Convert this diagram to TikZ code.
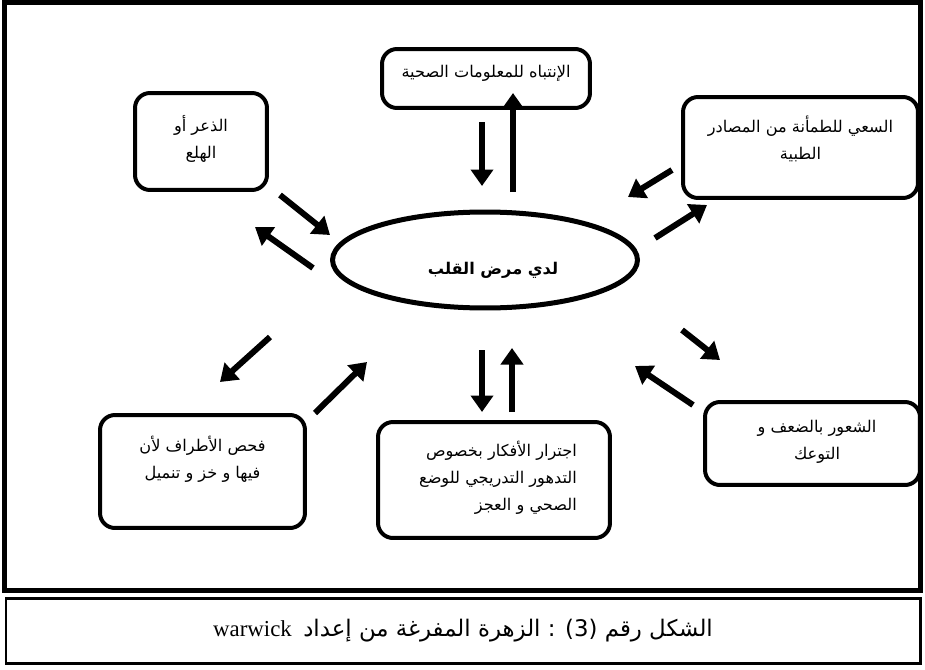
\documentclass[tikz,border=0pt]{standalone}
\usepackage{fontspec}
\setmainfont{Liberation Serif}
\newfontfamily\arabicfont[Script=Arabic]{DejaVu Sans}
\TeXXeTstate=1
\usetikzlibrary{arrows.meta,shapes.geometric}

\tikzset{
  card/.style={draw, line width=0.08cm, rounded corners=0.3cm, inner sep=0pt},
  cardtext/.style={font=\arabicfont\fontsize{9.2}{15.5}\selectfont, align=center, inner sep=0pt},
  link/.style={line width=0.12cm, -{Triangle[length=0.33cm,width=0.44cm]}},
}

\begin{document}
\begin{tikzpicture}[x=0.02cm,y=-0.02cm]
\useasboundingbox (0,0) rectangle (925,669);
\draw[line width=0.1cm] (4.5,2.5) rectangle (920,590);
\draw[line width=0.06cm] (6,598) rectangle (920,663);
\node[card, minimum width=4.16cm, minimum height=1.18cm,
  label={[cardtext,yshift=0.11cm]center:{\beginR الإنتباه للمعلومات الصحية\endR}}] (attn) at (486,78.5) {};
\node[card, minimum width=2.64cm, minimum height=1.94cm,
  label={[cardtext,yshift=0.05cm]center:{\beginR الذعر أو\endR\\\beginR الهلع\endR}}] (panic) at (201,141.5) {};
\node[card, minimum width=4.7cm, minimum height=2.02cm,
  label={[cardtext,yshift=0.18cm]center:{\beginR السعي للطمأنة من المصادر\endR\\\beginR الطبية\endR}}] (reassure) at (800.5,147.5) {};
\node[ellipse, draw, line width=0.1cm, minimum width=6.1cm, minimum height=1.92cm,
  label={[cardtext,font=\arabicfont\bfseries\fontsize{9.2}{15.5}\selectfont,xshift=0.16cm,yshift=-0.2cm]center:{\beginR لدي مرض القلب\endR}}] (heart) at (485,260) {};
\node[card, minimum width=4.1cm, minimum height=2.26cm,
  label={[cardtext,yshift=0.25cm]center:{\beginR فحص الأطراف لأن\endR\\\beginR فيها و خز و تنميل\endR}}] (limbs) at (202.5,471.5) {};
\node[card, minimum width=4.64cm, minimum height=2.32cm,
  label={[cardtext,align=right,xshift=0.08cm,yshift=0.04cm]center:{\beginR اجترار الأفكار بخصوص\endR\\\beginR التدهور التدريجي للوضع\endR\\\beginR الصحي و العجز\endR}}] (rumin) at (494,480) {};
\node[card, minimum width=4.3cm, minimum height=1.66cm,
  label={[cardtext,xshift=0.09cm,yshift=0.04cm]center:{\beginR الشعور بالضعف و\endR\\\beginR التوعك\endR}}] (weak) at (812.5,443.5) {};
\node[font=\fontsize{13}{15}\selectfont] (caption) at (463,630.5)
  {warwick\ \ {\arabicfont\beginR الزهرة المفرغة من إعداد\endR\ : (3) \beginR الشكل رقم\endR}};
\coordinate (t1) at (482,122); \coordinate (t2) at (482,186);
\coordinate (t3) at (513,192); \coordinate (t4) at (513,93);
\coordinate (tl1) at (280,195); \coordinate (tl2) at (330,235);
\coordinate (tl3) at (313,268); \coordinate (tl4) at (255,227);
\coordinate (tr1) at (672,170); \coordinate (tr2) at (628,197);
\coordinate (tr3) at (655,238); \coordinate (tr4) at (707,205);
\coordinate (bl1) at (270,337); \coordinate (bl2) at (220,382);
\coordinate (bl3) at (315,413); \coordinate (bl4) at (367,362);
\coordinate (b1) at (482,350); \coordinate (b2) at (482,412);
\coordinate (b3) at (512,412); \coordinate (b4) at (512,348);
\coordinate (br1) at (682,330); \coordinate (br2) at (720,360);
\coordinate (br3) at (693,405); \coordinate (br4) at (635,366);
\draw[link] (t1) -- (t2);
\draw[link] (t3) -- (t4);
\draw[link] (tl1) -- (tl2);
\draw[link] (tl3) -- (tl4);
\draw[link] (tr1) -- (tr2);
\draw[link] (tr3) -- (tr4);
\draw[link] (bl1) -- (bl2);
\draw[link] (bl3) -- (bl4);
\draw[link] (b1) -- (b2);
\draw[link] (b3) -- (b4);
\draw[link] (br1) -- (br2);
\draw[link] (br3) -- (br4);
\end{tikzpicture}
\end{document}
